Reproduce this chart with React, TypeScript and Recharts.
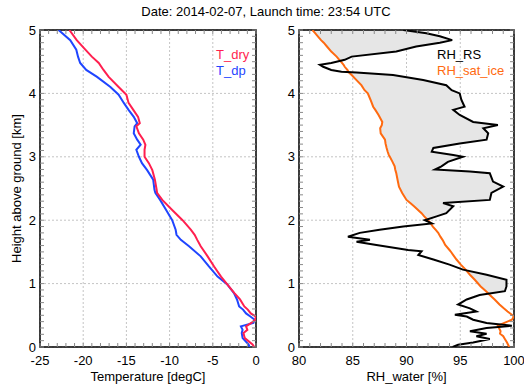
import { ComposedChart, Line, Area, XAxis, YAxis, CartesianGrid, ReferenceArea } from 'recharts';

// temperature profile (height km, degC)
const TEMP_HEIGHT = [0, 0.04, 0.14, 0.22, 0.27, 0.325, 0.38, 0.43, 0.48, 0.53, 0.59, 0.64, 0.75, 0.85, 0.99, 1.11, 1.27, 1.43, 1.59, 1.69, 1.77, 1.85, 2.0, 2.16, 2.32, 2.43, 2.48, 2.64, 2.79, 2.9, 3.0, 3.11, 3.19, 3.27, 3.37, 3.48, 3.53, 3.63, 3.74, 3.85, 3.98, 4.1, 4.26, 4.37, 4.48, 4.58, 4.69, 4.84, 5.0];
const T_DRY = [-0.2, -0.4, -1.3, -1.45, -1.0, -1.15, -0.55, -0.1, 0.0, -0.6, -0.95, -1.35, -1.85, -2.5, -3.35, -4.05, -4.85, -5.6, -6.4, -6.8, -7.1, -7.55, -8.5, -9.7, -10.85, -11.45, -11.5, -11.7, -12.0, -12.4, -12.9, -12.9, -12.8, -13.05, -13.55, -13.85, -13.45, -13.65, -14.2, -14.75, -15.0, -15.9, -17.05, -17.65, -18.2, -19.0, -19.75, -20.75, -21.6];
const T_DP = [-0.75, -0.85, -1.55, -1.65, -1.55, -1.75, -0.3, -0.15, -0.65, -1.15, -1.5, -1.95, -2.2, -2.55, -3.35, -4.45, -5.45, -6.4, -7.75, -8.7, -9.2, -9.3, -9.7, -10.4, -11.1, -11.65, -11.75, -11.9, -12.6, -13.2, -13.55, -13.85, -13.35, -13.75, -14.15, -14.05, -13.75, -14.15, -14.75, -15.3, -15.9, -16.85, -18.4, -19.65, -20.35, -20.6, -20.8, -21.5, -22.85];

// relative humidity profile (height km, %)
const RH_HEIGHT = [0, 0.036, 0.07, 0.126, 0.17, 0.21, 0.25, 0.3, 0.335, 0.38, 0.43, 0.48, 0.51, 0.56, 0.61, 0.67, 0.75, 0.82, 0.88, 0.955, 1.06, 1.14, 1.22, 1.3, 1.38, 1.45, 1.51, 1.53, 1.61, 1.66, 1.69, 1.74, 1.8, 1.85, 1.9, 1.95, 2.0, 2.06, 2.11, 2.22, 2.27, 2.32, 2.43, 2.53, 2.61, 2.74, 2.77, 2.8, 2.85, 2.92, 3.0, 3.03, 3.08, 3.14, 3.21, 3.27, 3.37, 3.45, 3.5, 3.55, 3.66, 3.74, 3.79, 3.9, 4.0, 4.05, 4.13, 4.21, 4.29, 4.33, 4.34, 4.37, 4.42, 4.45, 4.48, 4.53, 4.58, 4.66, 4.74, 4.8, 4.84, 4.9, 4.95, 5.0];
const RH_RS = [94.3, 94.8, 96.2, 97.75, 96.5, 97.45, 95.9, 97.45, 99.8, 97.45, 96.2, 95.6, 94.5, 96.5, 95.9, 94.8, 95.6, 96.8, 99.15, 99.3, 99.3, 97.45, 95.25, 94.0, 92.5, 91.1, 91.4, 90.15, 87.2, 85.35, 86.6, 84.55, 85.65, 87.5, 89.7, 92.35, 91.7, 92.8, 93.7, 94.35, 93.4, 97.75, 97.9, 99.0, 98.05, 97.75, 95.9, 92.65, 93.25, 93.85, 95.25, 94.35, 92.35, 92.5, 94.95, 97.45, 97.6, 97.15, 98.5, 96.2, 94.95, 94.35, 95.4, 95.1, 94.95, 94.2, 93.7, 91.55, 88.75, 85.35, 83.95, 83.0, 82.25, 81.95, 83.0, 84.25, 84.9, 89.05, 90.9, 93.1, 94.25, 93.1, 91.85, 89.7];
const RH_SAT_ICE = [99.55, 99.45, 99.35, 99.15, 99.0, 98.7, 98.75, 98.6, 98.5, 99.1, 99.8, 100.0, 99.8, 99.4, 99.05, 98.65, 98.2, 97.75, 97.4, 96.9, 96.35, 95.9, 95.5, 95.05, 94.65, 94.35, 94.1, 94.0, 93.6, 93.45, 93.35, 93.15, 92.95, 92.7, 92.45, 92.25, 92.0, 91.65, 91.4, 90.7, 90.35, 90.0, 89.6, 89.3, 89.2, 89.05, 89.0, 88.95, 88.9, 88.7, 88.45, 88.35, 88.25, 88.15, 88.05, 88.0, 87.6, 87.55, 87.7, 87.75, 87.4, 87.1, 86.9, 86.65, 86.4, 86.1, 85.8, 85.35, 84.9, 84.65, 84.6, 84.5, 84.25, 84.15, 84.0, 83.75, 83.5, 83.0, 82.6, 82.3, 82.05, 81.75, 81.5, 81.25];

const HEIGHT_TICKS = [0, 1, 2, 3, 4, 5];
const TEMP_TICKS = [-25, -20, -15, -10, -5, 0];
const RH_TICKS = [80, 85, 90, 95, 100];

const steps = (from: number, to: number, step: number) =>
    Array.from({ length: Math.round((to - from) / step) + 1 }, (_, i) => +(from + i * step).toFixed(2));
const HEIGHT_MINOR = steps(0, 5, 0.1);
const TEMP_MINOR = steps(-25, 0, 1);
const RH_MINOR = steps(80, 100, 1);

const FONT = '"Liberation Sans", Arial, Helvetica, sans-serif';
const RED = '#ff1f4f';
const BLUE = '#1f45ff';
const ORANGE = '#ff6a10';
const tickStyle = { fill: '#000', fontSize: 13, fontFamily: FONT };
const minorLine = { stroke: '#8a8a8a', strokeWidth: 1 };
const noLabel = () => <g />;

const tempData = TEMP_HEIGHT.map((h, i) => ({ h, tdry: T_DRY[i], tdp: T_DP[i] }));
const rhData = RH_HEIGHT.map((h, i) => ({
    h,
    rs: RH_RS[i],
    ice: RH_SAT_ICE[i],
    band: [RH_SAT_ICE[i], Math.max(RH_RS[i], RH_SAT_ICE[i])],
}));

// inward minor ticks on all four sides of a panel; the two invisible lines
// just tie the extra axes to the chart so that they get drawn
function minorAxes(domain: [number, number], xMinor: number[], key: string) {
    return [
        <XAxis key="mb" xAxisId="mb" type="number" domain={domain} ticks={xMinor} allowDataOverflow mirror interval={0}
            tick={noLabel} tickSize={4} axisLine={false} tickLine={minorLine} />,
        <XAxis key="mt" xAxisId="mt" orientation="top" type="number" domain={domain} ticks={xMinor} allowDataOverflow mirror interval={0}
            tick={noLabel} tickSize={4} axisLine={false} tickLine={minorLine} />,
        <YAxis key="ml" yAxisId="ml" type="number" dataKey="h" domain={[0, 5]} ticks={HEIGHT_MINOR} reversed allowDataOverflow mirror interval={0}
            tick={noLabel} tickSize={4} axisLine={false} tickLine={minorLine} />,
        <YAxis key="mr" yAxisId="mr" orientation="right" type="number" dataKey="h" domain={[0, 5]} ticks={HEIGHT_MINOR} reversed allowDataOverflow mirror interval={0}
            tick={noLabel} tickSize={4} axisLine={false} tickLine={minorLine} />,
        <Line key="h1" xAxisId="mb" yAxisId="ml" dataKey={key} stroke="none" dot={false} activeDot={false} isAnimationActive={false} />,
        <Line key="h2" xAxisId="mt" yAxisId="mr" dataKey={key} stroke="none" dot={false} activeDot={false} isAnimationActive={false} />,
    ];
}

const textAbs = (left: number, top: number, extra: object = {}) => ({
    position: 'absolute' as const, left, top, fontFamily: FONT, fontSize: 13, whiteSpace: 'nowrap' as const, ...extra,
});

export default function App() {
    return (
        <div style={{ position: 'absolute', left: 0, top: 0, width: 524, height: 386, background: '#fff', overflow: 'hidden' }}>
            <div style={textAbs(0, 4, { width: 532, textAlign: 'center' })}>Date: 2014-02-07, Launch time: 23:54 UTC</div>

            {/* temperature panel */}
            <div style={{ position: 'absolute', left: 0, top: 0 }}>
                <ComposedChart layout="vertical" width={262} height={386} data={tempData}
                    margin={{ top: 30, right: 6, bottom: 9, left: 10 }}>
                    <CartesianGrid stroke="#c4c4c4" strokeDasharray="2 2" />
                    <XAxis type="number" domain={[-25, 0]} ticks={TEMP_TICKS} allowDataOverflow height={30}
                        tick={tickStyle} tickLine={false} axisLine={false} tickSize={7} />
                    <YAxis type="number" dataKey="h" domain={[0, 5]} ticks={HEIGHT_TICKS} reversed allowDataOverflow width={30}
                        tick={tickStyle} tickLine={false} axisLine={false} tickSize={2} />
                    {minorAxes([-25, 0], TEMP_MINOR, 'tdry')}
                    <Line dataKey="tdp" stroke={BLUE} strokeWidth={2} dot={false} isAnimationActive={false} />
                    <Line dataKey="tdry" stroke={RED} strokeWidth={2} dot={false} isAnimationActive={false} />
                    <ReferenceArea x1={-25} x2={0} y1={0} y2={5} fill="none" stroke="#000" strokeWidth={1.5} ifOverflow="visible" />
                </ComposedChart>
            </div>

            {/* humidity panel */}
            <div style={{ position: 'absolute', left: 262, top: 0 }}>
                <ComposedChart layout="vertical" width={262} height={386} data={rhData}
                    margin={{ top: 30, right: 10, bottom: 9, left: 7 }}>
                    <CartesianGrid stroke="#c4c4c4" strokeDasharray="2 2" />
                    <XAxis type="number" domain={[80, 100]} ticks={RH_TICKS} allowDataOverflow height={30}
                        tick={tickStyle} tickLine={false} axisLine={false} tickSize={7} />
                    <YAxis type="number" dataKey="h" domain={[0, 5]} ticks={HEIGHT_TICKS} reversed allowDataOverflow width={30}
                        tick={tickStyle} tickLine={false} axisLine={false} tickSize={2} />
                    {minorAxes([80, 100], RH_MINOR, 'ice')}
                    <Area dataKey="band" fill="#e6e6e6" fillOpacity={1} stroke="none" isAnimationActive={false} />
                    <Line dataKey="ice" stroke={ORANGE} strokeWidth={2} dot={false} isAnimationActive={false} />
                    <Line dataKey="rs" stroke="#000" strokeWidth={2} dot={false} isAnimationActive={false} />
                    <ReferenceArea x1={80} x2={100} y1={0} y2={5} fill="none" stroke="#000" strokeWidth={1.5} ifOverflow="visible" />
                </ComposedChart>
            </div>

            {/* legends and axis titles */}
            <div style={textAbs(216, 47, { color: RED })}>T_dry</div>
            <div style={textAbs(216, 63, { color: BLUE })}>T_dp</div>
            <div style={textAbs(437, 47, { color: '#000' })}>RH_RS</div>
            <div style={textAbs(437, 63, { color: ORANGE })}>RH_sat_ice</div>
            <div style={textAbs(40, 369, { width: 216, textAlign: 'center' })}>Temperature [degC]</div>
            <div style={textAbs(299, 369, { width: 215, textAlign: 'center' })}>RH_water [%]</div>
            <div style={textAbs(16 - 90, 189 - 8, { width: 180, textAlign: 'center', transform: 'rotate(-90deg)' })}>
                Height above ground [km]
            </div>
        </div>
    );
}
